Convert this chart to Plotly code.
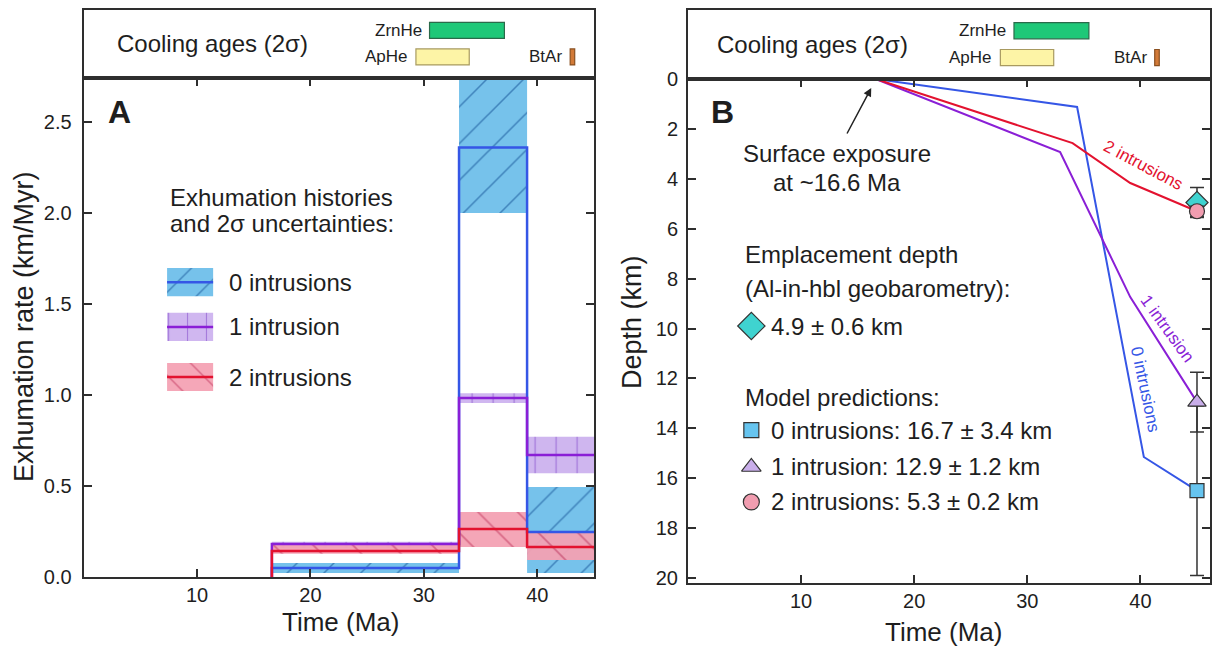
import plotly.graph_objects as go

FONT = "Liberation Sans, Arial, sans-serif"
DARK = "#2e2e2e"
TXT = "#1e1e1e"

# ---------------- Panel A data: exhumation rate step histories ----------------
edges = [16.6, 33.1, 39.1, 45.0]              # Ma, interval boundaries
rate0 = [0.049, 2.36, 0.247]                  # 0 intrusions
lo0 = [0.022, 2.00, 0.022]
hi0 = [0.077, 2.90, 0.495]
rate1 = [0.181, 0.983, 0.67]                  # 1 intrusion
lo1 = [0.159, 0.956, 0.57]
hi1 = [0.194, 1.010, 0.77]
rate2 = [0.143, 0.264, 0.165]                 # 2 intrusions
lo2 = [0.128, 0.165, 0.093]
hi2 = [0.176, 0.357, 0.247]
series_names = ["0 intrusions", "1 intrusion", "2 intrusions"]

# ---------------- Panel B data: depth histories ----------------
t0 = [16.6, 34.4, 40.3, 45.0]
d0 = [0.0, 1.12, 15.15, 16.5]
t1 = [16.6, 32.9, 39.1, 45.0]
d1 = [0.0, 2.93, 8.74, 12.95]
t2 = [16.6, 34.0, 39.1, 45.0]
d2 = [0.0, 2.57, 4.17, 5.3]
sample_age = 45.0
pred_depth = [16.5, 12.95, 5.3]
pred_err = [3.4, 1.2, 0.2]
pred_text = ["0 intrusions: 16.7 ± 3.4 km", "1 intrusion: 12.9 ± 1.2 km", "2 intrusions: 5.3 ± 0.2 km"]
emp_depth = 4.95
emp_err = 0.6

# ---------------- Cooling ages strip ----------------
cool_names = ["ZrnHe", "ApHe", "BtAr"]
cool_lo = [30.5, 29.3, 42.9]
cool_hi = [37.1, 34.0, 43.3]

# ticks
xticks = [10, 20, 30, 40]
yticksA = [0.0, 0.5, 1.0, 1.5, 2.0, 2.5]
yticksB = list(range(0, 21, 2))

# styles
line_cols = ["#3556e6", "#8a1fd6", "#e3122f"]
band_cols = ["#6fbfea", "#cdb3ef", "#f4a2b4"]
pat_cols = ["#2e75b3", "#9a6ad6", "#d45a7a"]
pat_shapes = ["/", "|", "\\"]
pat_sizes = [26, 21, 28]
mk_cols = ["#66c4ef", "#c9aeea", "#f19db0"]
mk_syms = ["square", "triangle-up", "circle"]
mk_sizes = [14, 16, 15]
emp_col = "#3fd3d0"
cool_fill = ["#1ec878", "#fdf4a6", "#d27a38"]
cool_edge = ["#2a6a4a", "#a89a60", "#8a5020"]
cool_row = [0.70, 0.31, 0.31]

fig = go.Figure()

# ---- Panel A bands ----
mids = [(edges[i] + edges[i + 1]) / 2 for i in range(3)]
widths = [edges[i + 1] - edges[i] for i in range(3)]
for k, (lo, hi) in enumerate([(lo0, hi0), (lo1, hi1), (lo2, hi2)]):
    fig.add_trace(go.Bar(
        x=mids, y=[h - l for h, l in zip(hi, lo)], base=lo, width=widths,
        marker=dict(color=band_cols[k], line_width=0,
                    pattern=dict(shape=pat_shapes[k], fgcolor=pat_cols[k], size=pat_sizes[k],
                                 solidity=0.06, fillmode="overlay", fgopacity=0.9)),
        opacity=0.95, xaxis="x", yaxis="y", showlegend=False, hoverinfo="skip"))

# ---- Panel A step lines ----
for k, r in enumerate([rate0, rate1, rate2]):
    xs = [edges[0]] + edges[:-1] + [edges[-1]]
    ys = [0.0] + r + [r[-1]]
    fig.add_trace(go.Scatter(x=xs, y=ys, mode="lines", line=dict(color=line_cols[k], width=2.5, shape="hv"),
                             xaxis="x", yaxis="y", showlegend=False, hoverinfo="skip"))

# ---- Panel A legend swatches ----
sw_x0, sw_x1 = 7.36, 11.42
sw_y = [1.62, 1.374, 1.099]
sw_h = 0.155
for k in range(3):
    fig.add_trace(go.Bar(
        x=[(sw_x0 + sw_x1) / 2], y=[sw_h], base=[sw_y[k] - sw_h / 2], width=[sw_x1 - sw_x0],
        marker=dict(color=band_cols[k], line_width=0,
                    pattern=dict(shape=pat_shapes[k], fgcolor=pat_cols[k], size=pat_sizes[k] * 0.9,
                                 solidity=0.06, fillmode="overlay", fgopacity=0.9)),
        opacity=0.95, xaxis="x", yaxis="y", showlegend=False, hoverinfo="skip"))
    fig.add_trace(go.Scatter(x=[sw_x0, sw_x1], y=[sw_y[k], sw_y[k]], mode="lines",
                             line=dict(color=line_cols[k], width=2.5),
                             xaxis="x", yaxis="y", showlegend=False, hoverinfo="skip"))

# ---- Panel B lines ----
for k, (tt, dd) in enumerate([(t0, d0), (t1, d1), (t2, d2)]):
    fig.add_trace(go.Scatter(x=tt, y=dd, mode="lines", line=dict(color=line_cols[k], width=2),
                             xaxis="x2", yaxis="y2", showlegend=False, hoverinfo="skip"))

# ---- Panel B markers with error bars ----
errbar = dict(type="data", color="#333333", thickness=1.5, width=7)
for k in [0, 1]:
    fig.add_trace(go.Scatter(x=[sample_age], y=[pred_depth[k]], mode="markers",
                             marker=dict(symbol=mk_syms[k], size=mk_sizes[k], color=mk_cols[k],
                                         line=dict(color="#333333", width=1.2)),
                             error_y=dict(array=[pred_err[k]], **errbar), cliponaxis=False,
                             xaxis="x2", yaxis="y2", showlegend=False, hoverinfo="skip"))
fig.add_trace(go.Scatter(x=[sample_age], y=[emp_depth], mode="markers",
                         marker=dict(symbol="diamond", size=17, color=emp_col,
                                     line=dict(color="#333333", width=1.2)),
                         error_y=dict(array=[emp_err], **errbar), cliponaxis=False,
                         xaxis="x2", yaxis="y2", showlegend=False, hoverinfo="skip"))
fig.add_trace(go.Scatter(x=[sample_age], y=[pred_depth[2]], mode="markers",
                         marker=dict(symbol=mk_syms[2], size=mk_sizes[2], color=mk_cols[2],
                                     line=dict(color="#333333", width=1.2)),
                         error_y=dict(array=[pred_err[2]], **errbar), cliponaxis=False,
                         xaxis="x2", yaxis="y2", showlegend=False, hoverinfo="skip"))

# ---- Panel B legend markers ----
leg_x = 5.6
leg_rows = [14.07, 15.55, 16.95]
for k in range(3):
    fig.add_trace(go.Scatter(x=[leg_x], y=[leg_rows[k]], mode="markers",
                             marker=dict(symbol=mk_syms[k], size=mk_sizes[k] + 1, color=mk_cols[k],
                                         line=dict(color="#333333", width=1.2)),
                             xaxis="x2", yaxis="y2", showlegend=False, hoverinfo="skip"))
fig.add_trace(go.Scatter(x=[leg_x], y=[9.9], mode="markers",
                         marker=dict(symbol="diamond", size=21, color=emp_col,
                                     line=dict(color="#333333", width=1.2)),
                         xaxis="x2", yaxis="y2", showlegend=False, hoverinfo="skip"))

# ---- Cooling age strips ----
for xa, ya in [("x3", "y3"), ("x4", "y4")]:
    for k in range(3):
        fig.add_trace(go.Bar(orientation="h", y=[cool_row[k]], x=[cool_hi[k] - cool_lo[k]], base=[cool_lo[k]],
                             width=[0.235], marker=dict(color=cool_fill[k], line=dict(color=cool_edge[k], width=1.2)),
                             xaxis=xa, yaxis=ya, showlegend=False, hoverinfo="skip"))

annotations = []


def ann(text, x, y, xref, yref, size=24, color=TXT, xanchor="left", yanchor="middle", **kw):
    annotations.append(dict(text=text, x=x, y=y, xref=xref, yref=yref, showarrow=kw.pop("showarrow", False),
                            font=dict(family=FONT, size=size, color=color), xanchor=xanchor,
                            yanchor=yanchor, **kw))


for xa, ya, cx in [("x3", "y3", 0.0616), ("x4", "y4", 0.052)]:
    ann("Cooling ages (2σ)", cx, 0.5, xa + " domain", ya, size=24)
    for k in range(3):
        ann(cool_names[k], cool_lo[k], cool_row[k], xa, ya, size=17, xanchor="right", xshift=-6)

# Panel A texts
ann("<b>A</b>", 3.2, 2.555, "x", "y", size=32, xanchor="center")
ann("Exhumation histories", 7.45, 2.088, "x", "y")
ann("and 2σ uncertainties:", 7.45, 1.945, "x", "y")
for k in range(3):
    ann(series_names[k], 12.66, sw_y[k], "x", "y")

# Panel B texts
ann("<b>B</b>", 3.05, 1.32, "x2", "y2", size=32, xanchor="center")
ann("Surface exposure", 13.2, 2.97, "x2", "y2", xanchor="center")
ann("at ~16.6 Ma", 13.2, 4.13, "x2", "y2", xanchor="center")
annotations.append(dict(text="", x=16.2, y=0.36, xref="x2", yref="y2", showarrow=True,
                        ax=-25, ay=47, arrowhead=2, arrowsize=1.1, arrowwidth=1.5, arrowcolor="#222222"))
ann("Emplacement depth", 4.9, 7.05, "x2", "y2")
ann("(Al-in-hbl geobarometry):", 4.9, 8.38, "x2", "y2")
ann("4.9 ± 0.6 km", 7.2, 9.9, "x2", "y2")
ann("Model predictions:", 4.9, 12.75, "x2", "y2")
for k in range(3):
    ann(pred_text[k], 7.2, leg_rows[k], "x2", "y2")
ann("2 intrusions", 40.3, 3.45, "x2", "y2", size=17, color=line_cols[2], xanchor="center", textangle=28)
ann("1 intrusion", 42.35, 10.0, "x2", "y2", size=17, color=line_cols[1], xanchor="center", textangle=54)
ann("0 intrusions", 40.4, 12.46, "x2", "y2", size=17, color=line_cols[0], xanchor="center", textangle=78)

# Axis titles
ann("Exhumation rate (km/Myr)", 24 / 1213, 1 - 327 / 650, "paper", "paper", size=27, xanchor="center", textangle=-90)
ann("Time (Ma)", 340 / 1213, 1 - 622 / 650, "paper", "paper", size=26, xanchor="center")
ann("Depth (km)", 632 / 1213, 1 - 322 / 650, "paper", "paper", size=27, xanchor="center", textangle=-90)
ann("Time (Ma)", 943 / 1213, 1 - 632 / 650, "paper", "paper", size=26, xanchor="center")

axis_base = dict(showline=True, linecolor=DARK, linewidth=2, mirror="ticks", ticks="inside", ticklen=8,
                 tickwidth=1.5, tickcolor=DARK, showgrid=False, zeroline=False, fixedrange=True,
                 automargin=False, tickfont=dict(family=FONT, size=20, color=TXT))
strip_axis = dict(showline=True, linecolor=DARK, linewidth=2, mirror=True, ticks="", showticklabels=False,
                  showgrid=False, zeroline=False, fixedrange=True, automargin=False)

domA = [83.6 / 1213, 594 / 1213]
domB = [688 / 1213, 1210 / 1213]

fig.update_layout(
    template="none",
    width=1213, height=650, margin=dict(l=0, r=0, t=0, b=0, pad=0, autoexpand=False),
    paper_bgcolor="white", plot_bgcolor="white", barmode="overlay", showlegend=False,
    font=dict(family=FONT, color=TXT),
    xaxis=dict(axis_base, domain=domA, range=[0, 45], tickvals=xticks, anchor="y", ticklabelstandoff=-1),
    yaxis=dict(axis_base, domain=[1 - 577 / 650, 1 - 78 / 650], range=[0, 2.742], tickvals=yticksA,
               ticktext=[f"{v:.1f}" for v in yticksA], anchor="x", ticklabelstandoff=6),
    xaxis2=dict(axis_base, domain=domB, range=[0, 46.15], tickvals=xticks, anchor="y2", ticklabelstandoff=-1),
    yaxis2=dict(axis_base, domain=[1 - 583 / 650, 1 - 79 / 650], range=[20.2, 0], tickvals=yticksB, anchor="x2",
                ticklabelstandoff=4),
    xaxis3=dict(strip_axis, domain=domA, range=[0, 45], anchor="y3"),
    yaxis3=dict(strip_axis, domain=[1 - 78 / 650, 1 - 10 / 650], range=[0, 1], anchor="x3"),
    xaxis4=dict(strip_axis, domain=domB, range=[1.78, 47.77], anchor="y4"),
    yaxis4=dict(strip_axis, domain=[1 - 79 / 650, 1 - 10 / 650], range=[0, 1], anchor="x4"),
    annotations=annotations,
)

fig.write_html("out.html", config={"displayModeBar": False})
